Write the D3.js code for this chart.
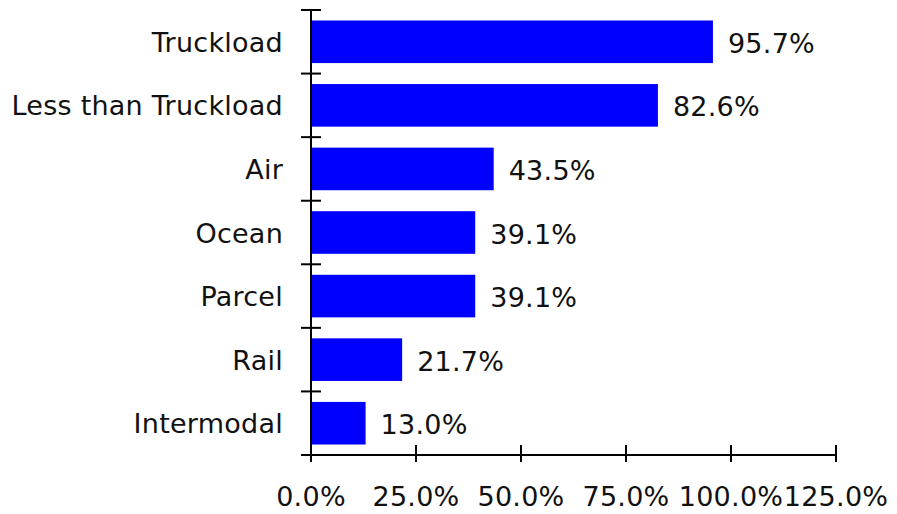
<!DOCTYPE html>
<html>
<head>
<meta charset="utf-8">
<script src="https://cdn.jsdelivr.net/npm/d3@7"></script>
<style>
  html, body { margin: 0; padding: 0; background: #fff; }
  svg text { font-family: "DejaVu Sans", Verdana, sans-serif; fill: #111; letter-spacing: 0.25px; }
</style>
</head>
<body>
<svg id="chart" width="897" height="514"></svg>
<script>
// Share of shippers using each transport mode (%)
const categories = ["Truckload", "Less than Truckload", "Air", "Ocean", "Parcel", "Rail", "Intermodal"];
const values = [95.7, 82.6, 43.5, 39.1, 39.1, 21.7, 13.0];
const xTicks = [0, 25, 50, 75, 100, 125];

const svg = d3.select("#chart");
const plotLeft = 311, plotRight = 836, plotTop = 10, plotBottom = 455;
const fontSize = 27;
const fmt = v => d3.format(".1f")(v) + "%";

const x = d3.scaleLinear().domain([0, 125]).range([plotLeft, plotRight]);
const y = d3.scaleBand().domain(categories).range([plotTop, plotBottom])
  .paddingInner(0.33).paddingOuter(0.165);
const step = y.step();

// bars
svg.append("g").selectAll("rect").data(categories).join("rect")
  .attr("x", x(0))
  .attr("y", d => y(d))
  .attr("width", (d, i) => x(values[i]) - x(0))
  .attr("height", y.bandwidth())
  .attr("fill", "#0000ff");

// value labels
svg.append("g").selectAll("text").data(categories).join("text")
  .attr("x", (d, i) => x(values[i]) + 15)
  .attr("y", d => y(d) + y.bandwidth() / 2 + 11)
  .attr("font-size", fontSize)
  .text((d, i) => fmt(values[i]));

// category axis
const yAxis = svg.append("g").attr("stroke", "#000").attr("stroke-width", 2);
yAxis.append("line").attr("x1", plotLeft).attr("x2", plotLeft).attr("y1", plotTop).attr("y2", plotBottom);
yAxis.selectAll("line.tick").data(d3.range(categories.length + 1)).join("line")
  .attr("class", "tick")
  .attr("x1", plotLeft - 10).attr("x2", plotLeft + 10)
  .attr("y1", i => plotTop + i * step).attr("y2", i => plotTop + i * step);

svg.append("g").selectAll("text").data(categories).join("text")
  .attr("x", 283)
  .attr("y", d => y(d) + y.bandwidth() / 2 + 10)
  .attr("text-anchor", "end")
  .attr("font-size", fontSize)
  .text(d => d);

// value axis
const xAxis = svg.append("g").attr("stroke", "#000").attr("stroke-width", 2);
xAxis.append("line").attr("x1", plotLeft - 10).attr("x2", plotRight).attr("y1", plotBottom).attr("y2", plotBottom);
xAxis.selectAll("line.tick").data(xTicks).join("line")
  .attr("class", "tick")
  .attr("x1", d => x(d)).attr("x2", d => x(d))
  .attr("y1", plotBottom - 10).attr("y2", plotBottom + 7);

svg.append("g").selectAll("text").data(xTicks).join("text")
  .attr("x", d => x(d))
  .attr("y", 506)
  .attr("text-anchor", "middle")
  .attr("font-size", fontSize)
  .text(d => fmt(d));
</script>
</body>
</html>
